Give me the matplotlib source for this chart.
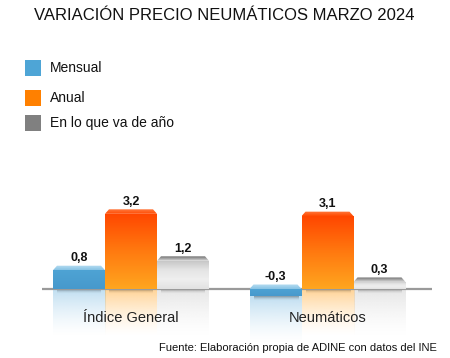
import numpy as np
import matplotlib.pyplot as plt
from matplotlib.colors import LinearSegmentedColormap, to_rgb
from matplotlib.patches import Polygon, Rectangle

plt.rcParams['font.family'] = ['Liberation Sans', 'DejaVu Sans']

title = "VARIACIÓN PRECIO NEUMÁTICOS MARZO 2024"
source = "Fuente: Elaboración propia de ADINE con datos del INE"
categories = ["Índice General", "Neumáticos"]
series = ["Mensual", "Anual", "En lo que va de año"]
values = {
    "Mensual": [0.8, -0.3],
    "Anual": [3.2, 3.1],
    "En lo que va de año": [1.2, 0.3],
}
legend_colors = ["#4ea5d6", "#ff8000", "#808080"]
# body gradient (top -> bottom), bevel gradient (top -> bottom), reflection colour
body_grad = [["#4ea3d4", "#4799cc"],
             ["#ff4600", "#ff7a10", "#ffa61f"],
             ["#c4c4c4", "#e4e4e4", "#efefef", "#e2e2e2"]]
bevel_grad = [["#b8def2", "#86c2e4"],
              ["#ff7a40", "#ff4a00"],
              ["#6e6e6e", "#dcdcdc"]]
refl_col = ["#8cc4e6", "#ffb040", "#d2d2d2"]

W, H = 450, 358
fig = plt.figure(figsize=(W / 100, H / 100), dpi=100)

# pixel geometry of the plotting area
px_unit = 23.5           # pixels per percentage point
base_px = 289            # baseline (from top)
ax_top, ax_bot = 150, 345
ax_left, ax_right = 42, 432
ax = fig.add_axes([ax_left / W, (H - ax_bot) / H, (ax_right - ax_left) / W, (ax_bot - ax_top) / H])
ylo = -(ax_bot - base_px) / px_unit
yhi = (base_px - ax_top) / px_unit

grp_px = 196.5
bw = 52 / grp_px
xlo = (ax_left - 131) / grp_px
xhi = (ax_right - 131) / grp_px
bevel = 4.5 / px_unit
inset = 4 / grp_px
refl_h = 48 / px_unit

x = np.arange(len(categories))
grad = np.linspace(0, 1, 256).reshape(-1, 1)

for i, s in enumerate(series):
    xs = x + (i - 1) * bw
    bars = ax.bar(xs, values[s], width=bw, color='none', edgecolor='none', zorder=2)
    cmap = LinearSegmentedColormap.from_list(s, body_grad[i][::-1])
    bcmap = LinearSegmentedColormap.from_list(s + "_bev", bevel_grad[i][::-1])
    for b, v in zip(bars, values[s]):
        x0, x1 = b.get_x(), b.get_x() + b.get_width()
        y0, y1 = min(0, v), max(0, v)
        im = ax.imshow(grad, extent=[x0, x1, y0, y1], origin='lower', aspect='auto',
                       cmap=cmap, zorder=2, interpolation='bicubic')
        im.set_clip_path(b)
        # beveled top
        bev = Polygon([[x0, y1], [x0 + inset, y1 + bevel], [x1 - inset, y1 + bevel], [x1, y1]],
                      closed=True, facecolor='none', edgecolor='none', zorder=3)
        ax.add_patch(bev)
        bim = ax.imshow(grad, extent=[x0, x1, y1, y1 + bevel], origin='lower', aspect='auto',
                        cmap=bcmap, zorder=3, interpolation='bicubic')
        bim.set_clip_path(bev)
        # reflection
        rimg = np.zeros((256, 1, 4))
        rimg[..., :3] = to_rgb(refl_col[i])
        rimg[:, 0, 3] = 0.55 * np.linspace(0, 1, 256) ** 1.5
        ax.imshow(rimg, extent=[x0, x1, y0 - refl_h, y0], origin='lower', aspect='auto',
                  zorder=1, interpolation='bicubic')
        # shadow just below base
        simg = np.zeros((64, 1, 4))
        simg[:, 0, 3] = 0.35 * np.linspace(0, 1, 64) ** 2
        ax.imshow(simg, extent=[x0 + inset, x1 - inset, y0 - 5 / px_unit, y0], origin='lower',
                  aspect='auto', zorder=1.5, interpolation='bicubic')
        lab = f"{v:.1f}".replace('.', ',')
        ax.text((x0 + x1) / 2, max(v, 0) + bevel + 1.5 / px_unit, lab, ha='center', va='bottom',
                fontsize=9, fontweight='bold', color='#111111', zorder=4)

ax.plot([xlo, xhi], [0, 0], color='#9a9a9a', lw=1.6, zorder=1.8, solid_capstyle='butt')

for xi, c in zip(x, categories):
    ax.text(xi, -(318 - base_px) / px_unit, c, ha='center', va='center', fontsize=10.5,
            color='#222222', zorder=5)

ax.set_xlim(xlo, xhi)
ax.set_ylim(ylo, yhi)
ax.axis('off')

fig.text(224 / W, 1 - 16 / H, title, ha='center', va='center', fontsize=12, color='#111111')

leg_y = [68, 98, 123]
for s, c, yy in zip(series, legend_colors, leg_y):
    fig.patches.append(Rectangle((25 / W, 1 - (yy + 8) / H), 16 / W, 16 / H, transform=fig.transFigure,
                                 facecolor=c, edgecolor='none'))
    fig.text(50 / W, 1 - yy / H, s, ha='left', va='center', fontsize=10, color='#111111')

fig.text(437 / W, 1 - 348 / H, source, ha='right', va='center', fontsize=8, color='#111111')

fig.savefig('out.png', dpi=100, facecolor='white')
